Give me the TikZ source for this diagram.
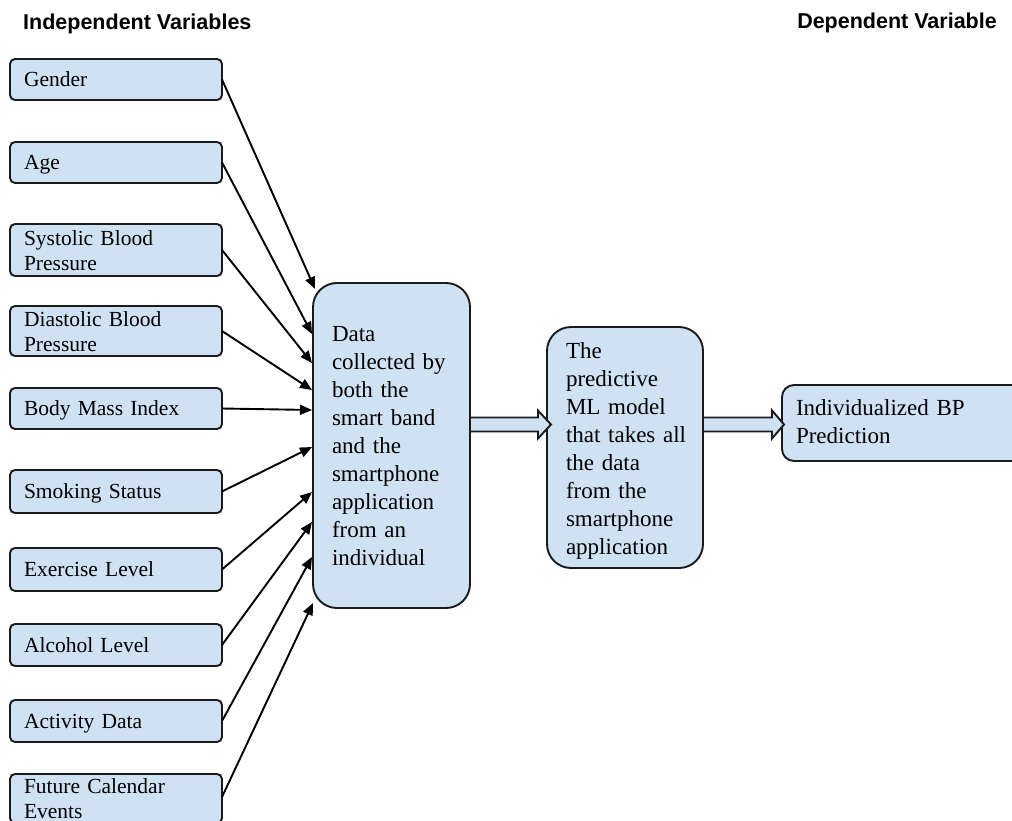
\documentclass[tikz,border=0pt]{standalone}
\usepackage{fontspec}
\setmainfont{Liberation Serif}
\newfontfamily\titlefont{Liberation Sans}
\usetikzlibrary{arrows.meta,calc}
\definecolor{boxblue}{HTML}{CFE2F3}
\definecolor{edge}{HTML}{1A1A1A}
\begin{document}
\begin{tikzpicture}[x=1pt,y=-1pt,
  lbox/.style={draw=edge, fill=boxblue, line width=1.9pt, rounded corners=5pt,
    anchor=north west, minimum width=212pt, inner xsep=14pt, inner ysep=0pt,
    text width=184pt, align=left, font=\fontsize{21.5}{25}\selectfont,
    text height=14.2pt, text depth=-1pt, outer sep=0pt},
  twol/.style={text depth=24pt},
  mbox/.style={draw=edge, fill=boxblue, line width=1.9pt, rounded corners=24pt,
    anchor=north west, inner xsep=19pt, inner ysep=0pt, align=left,
    font=\fontsize{23}{28}\selectfont, text height=15.2pt, outer sep=0pt},
  conn/.style={draw=black, line width=1.9pt, -{Triangle[length=12pt,width=10pt]}},
  barrow/.style={draw=edge, fill=boxblue, line width=1.9pt},
  title/.style={font=\titlefont\bfseries\fontsize{21.5}{25}\selectfont, inner sep=0pt}
]
\useasboundingbox (0,0) rectangle (1012,821);
\clip (0,0) rectangle (1012,821);

\node[title, anchor=base west] (tl) at (23,30) {Independent Variables};
\node[title, anchor=base east] (tr) at (997,29) {Dependent Variable};

\node[lbox, minimum height=41pt] (gender) at (10,59) {Gender};
\node[lbox, minimum height=41pt] (age) at (10,142) {Age};
\node[lbox, twol, minimum height=52pt] (sys) at (10,224) {Systolic Blood\\Pressure};
\node[lbox, twol, minimum height=50pt] (dia) at (10,306) {Diastolic Blood\\Pressure};
\node[lbox, minimum height=41pt] (bmi) at (10,388) {Body Mass Index};
\node[lbox, minimum height=43pt] (smoke) at (10,470) {Smoking Status};
\node[lbox, minimum height=43pt] (exer) at (10,548) {Exercise Level};
\node[lbox, minimum height=42pt] (alc) at (10,624) {Alcohol Level};
\node[lbox, minimum height=42pt] (act) at (10,700) {Activity Data};
\node[lbox, minimum height=49pt, text depth=24pt] (fut) at (10,774) {Future Calendar\\Events};

\node[mbox, minimum width=157pt, minimum height=325pt, text width=119pt, text depth=224pt] (b1) at (313,283)
  {Data\\collected by\\both the\\smart band\\and the\\smartphone\\application\\from an\\individual};
\node[mbox, minimum width=156pt, minimum height=241pt, text width=118pt, text depth=194pt] (b2) at (547,327)
  {The\\predictive\\ML model\\\mbox{that takes all}\\the data\\from the\\smartphone\\application};
\node[mbox, rounded corners=12pt, inner xsep=14pt, minimum width=260pt, minimum height=76pt, text width=232pt, text depth=30pt] (b3) at (782,385)
  {Individualized BP\\Prediction};

\coordinate (t1) at (315,289);
\coordinate (t2) at (312,334);
\coordinate (t3) at (312,363);
\coordinate (t4) at (312,390);
\coordinate (t5) at (312,410);
\coordinate (t6) at (312,447);
\coordinate (t7) at (312,492);
\coordinate (t8) at (312,522);
\coordinate (t9) at (312,557);
\coordinate (t10) at (313,603);

\draw[conn] (gender.east) -- (t1);
\draw[conn] (age.east) -- (t2);
\draw[conn] (sys.east) -- (t3);
\draw[conn] (dia.east) -- (t4);
\draw[conn] (bmi.east) -- (t5);
\draw[conn] (smoke.east) -- (t6);
\draw[conn] (exer.east) -- (t7);
\draw[conn] (alc.east) -- (t8);
\draw[conn] (act.east) -- (t9);
\draw[conn] (fut.east |- 0,797) -- (t10);

\coordinate (a1s) at (b1.east |- 0,424.5);
\coordinate (a2s) at (b2.east |- 0,424.5);
\draw[barrow] (a1s) ++(0,-7) -- ++(68,0) -- ++(0,-7) -- ++(13,14) -- ++(-13,14) -- ++(0,-7) -- ++(-68,0) -- cycle;
\draw[barrow] (a2s) ++(0,-7) -- ++(69,0) -- ++(0,-7) -- ++(12,14) -- ++(-12,14) -- ++(0,-7) -- ++(-69,0) -- cycle;
\end{tikzpicture}
\end{document}
